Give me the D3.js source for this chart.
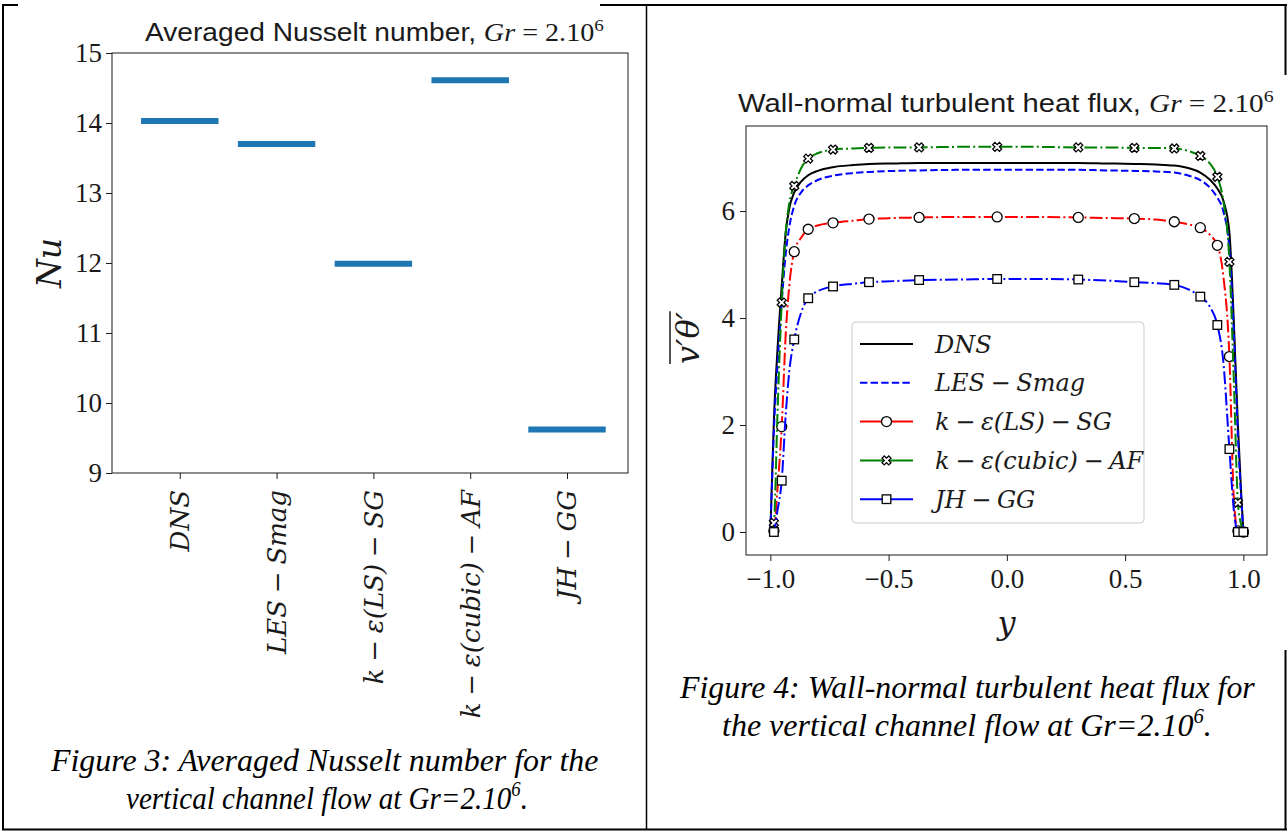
<!DOCTYPE html>
<html><head><meta charset="utf-8">
<script src="https://cdn.jsdelivr.net/npm/d3@7"></script>
<style>
body{margin:0;background:#fff;}
svg{display:block;}
</style></head><body>
<svg id="c" width="1288" height="832"></svg>
<script>
// ---------- Data: Figure 3 (averaged Nusselt number) ----------
const nuCategories = ["DNS", "LES − Smag", "k − ε(LS) − SG", "k − ε(cubic) − AF", "JH − GG"];
const nuValues = [14.03, 13.70, 11.99, 14.61, 9.62];
const nuTicks = [9, 10, 11, 12, 13, 14, 15];

// ---------- Data: Figure 4 (wall-normal turbulent heat flux) ----------
const yPos = [-1.0, -0.993, -0.985, -0.97, -0.952, -0.935, -0.92, -0.899, -0.87, -0.84,
  -0.8, -0.735, -0.65, -0.583, -0.48, -0.371, -0.2, -0.041, 0.13, 0.302,
  0.42, 0.539, 0.63, 0.708, 0.77, 0.818, 0.86, 0.89, 0.915, 0.941,
  0.96, 0.977, 0.99, 1.0];
const fluxDNS = [0, 1.0, 2.1, 3.4, 4.6, 5.6, 6.05, 6.35, 6.55, 6.67,
  6.75, 6.82, 6.86, 6.88, 6.89, 6.9, 6.9, 6.9, 6.9, 6.9,
  6.89, 6.88, 6.87, 6.85, 6.8, 6.72, 6.58, 6.42, 6.2, 5.6,
  3.9, 2.0, 0.8, 0];
const fluxLES = [0, 0.9, 1.9, 3.1, 4.3, 5.2, 5.7, 6.1, 6.35, 6.48,
  6.58, 6.66, 6.71, 6.73, 6.75, 6.76, 6.77, 6.77, 6.77, 6.77,
  6.76, 6.75, 6.74, 6.72, 6.66, 6.58, 6.43, 6.25, 6.0, 5.3,
  3.7, 1.8, 0.7, 0];
const fluxLS = [0, 0, 0.02, 0.8, 1.97, 3.7, 4.6, 5.24, 5.5, 5.66,
  5.73, 5.78, 5.82, 5.85, 5.87, 5.88, 5.89, 5.89, 5.89, 5.88,
  5.87, 5.86, 5.84, 5.80, 5.75, 5.69, 5.55, 5.36, 4.8, 3.28,
  0.6, 0.02, 0, 0];
const fluxCubic = [0, 0.08, 0.17, 2.2, 4.29, 5.6, 6.15, 6.47, 6.8, 6.98,
  7.08, 7.15, 7.17, 7.18, 7.19, 7.19, 7.2, 7.2, 7.2, 7.19,
  7.19, 7.18, 7.18, 7.17, 7.12, 7.03, 6.88, 6.64, 6.2, 5.05,
  2.8, 0.55, 0.15, 0];
const fluxJH = [0, 0, 0, 0.4, 0.96, 2.2, 3.0, 3.6, 4.1, 4.37,
  4.5, 4.59, 4.64, 4.67, 4.69, 4.71, 4.72, 4.73, 4.73, 4.72,
  4.70, 4.67, 4.65, 4.62, 4.53, 4.40, 4.2, 3.87, 3.2, 1.55,
  0.4, 0, 0, 0];
const markerIdx = [2, 4, 7, 9, 11, 13, 15, 17, 19, 21, 23, 25, 27, 29, 31, 33];
const fluxNames = ["DNS", "LES − Smag", "k − ε(LS) − SG", "k − ε(cubic) − AF", "JH − GG"];
const fluxXTicks = [-1.0, -0.5, 0.0, 0.5, 1.0];
const fluxYTicks = [0, 2, 4, 6];

// ---------- Drawing ----------
const svg = d3.select("#c");
const SERIF = "'Liberation Serif','DejaVu Serif',serif";
const MATH = "'DejaVu Serif','Liberation Serif',serif";
const SANS = "'Liberation Sans','DejaVu Sans',sans-serif";
const CAP = "'Liberation Serif',serif";
const INK = "#1a1a1a";

function fitText(sel, x0, x1) {
  const bb = sel.node().getBBox();
  const s = (x1 - x0) / bb.width;
  sel.attr("transform", `translate(${x0},0) scale(${s},1) translate(${-bb.x},0)`);
}

// page borders
const B = svg.append("g").attr("stroke", "#000").attr("fill", "none");
B.append("line").attr("x1", 3).attr("y1", 5).attr("x2", 3).attr("y2", 830).attr("stroke-width", 2);
B.append("line").attr("x1", 2).attr("y1", 5).attr("x2", 18).attr("y2", 5).attr("stroke-width", 2);
B.append("line").attr("x1", 600).attr("y1", 5).attr("x2", 1287).attr("y2", 5).attr("stroke-width", 2);
B.append("line").attr("x1", 646.5).attr("y1", 5).attr("x2", 646.5).attr("y2", 830).attr("stroke-width", 1.5);
B.append("line").attr("x1", 2).attr("y1", 829.5).attr("x2", 1287).attr("y2", 829.5).attr("stroke-width", 2);
B.append("line").attr("x1", 1285.5).attr("y1", 5).attr("x2", 1285.5).attr("y2", 75).attr("stroke-width", 2);
B.append("line").attr("x1", 1285.5).attr("y1", 650).attr("x2", 1285.5).attr("y2", 830).attr("stroke-width", 2);

function title(g, y, lead, x0, x1) {
  const t = g.append("text").attr("x", 0).attr("y", y).attr("font-size", 25).attr("fill", INK);
  t.append("tspan").attr("font-family", SANS).text(lead);
  t.append("tspan").attr("font-family", SERIF).attr("font-style", "italic").text("Gr");
  t.append("tspan").attr("font-family", SERIF).text(" = 2.10");
  t.append("tspan").attr("font-family", SERIF).attr("font-size", 17).attr("dy", -10).text("6");
  fitText(t, x0, x1);
}

// ===== Left chart =====
{
  const L = { l: 112, r: 628, t: 53, b: 473 };
  const x = d3.scaleLinear().domain([-0.7, 4.63]).range([L.l, L.r]);
  const y = d3.scaleLinear().domain([9, 15]).range([L.b, L.t]);
  const g = svg.append("g");

  g.selectAll("line.bar").data(nuValues).join("line")
    .attr("x1", (d, i) => x(i - 0.4)).attr("x2", (d, i) => x(i + 0.4))
    .attr("y1", d => y(d)).attr("y2", d => y(d))
    .attr("stroke", "#1f77b4").attr("stroke-width", 6);

  const ya = g.append("g").attr("transform", `translate(${L.l},0)`)
    .call(d3.axisLeft(y).tickValues(nuTicks).tickSize(6).tickPadding(4).tickFormat(d3.format("d")));
  ya.select(".domain").remove();
  ya.selectAll("line").attr("stroke", INK);
  ya.selectAll("text").attr("font-family", SERIF).attr("font-size", 27).attr("fill", INK);

  const xa = g.append("g").attr("transform", `translate(0,${L.b})`)
    .call(d3.axisBottom(x).tickValues(d3.range(nuCategories.length)).tickSize(6).tickFormat(""));
  xa.select(".domain").remove();
  xa.selectAll("line").attr("stroke", INK);
  g.selectAll("text.xl").data(nuCategories).join("text")
    .attr("transform", (d, i) => `translate(${x(i)},${L.b + 17}) rotate(-90)`)
    .attr("text-anchor", "end").attr("dy", "0.36em").attr("word-spacing", -1.5)
    .attr("font-family", MATH).attr("font-style", "italic").attr("font-size", 26).attr("fill", INK)
    .text(d => d);

  g.append("rect").attr("x", L.l).attr("y", L.t).attr("width", L.r - L.l).attr("height", L.b - L.t)
    .attr("fill", "none").attr("stroke", INK).attr("stroke-width", 1);

  title(g, 41, "Averaged Nusselt number, ", 145, 604);

  g.append("text").attr("transform", `translate(49,263) rotate(-90)`).attr("text-anchor", "middle")
    .attr("dy", "0.36em").attr("font-family", MATH).attr("font-style", "italic").attr("font-size", 33)
    .attr("fill", INK).text("Nu");

  // caption
  const c1 = svg.append("text").attr("y", 771).attr("font-family", CAP).attr("font-style", "italic")
    .attr("font-size", 31).text("Figure 3: Averaged Nusselt number for the");
  fitText(c1, 50, 599);
  const c2 = svg.append("text").attr("y", 809).attr("font-family", CAP).attr("font-style", "italic")
    .attr("font-size", 31);
  c2.append("tspan").text("vertical channel flow at Gr=2.10");
  c2.append("tspan").attr("font-size", 20).attr("dy", -13).text("6");
  c2.append("tspan").attr("dy", 13).text(".");
  fitText(c2, 126, 528);
}

// ===== Right chart =====
{
  const R = { l: 746, r: 1267, t: 126, b: 555 };
  const x = d3.scaleLinear().domain([-1.103, 1.1]).range([R.l, R.r]);
  const y = d3.scaleLinear().domain([-0.43, 7.59]).range([R.b, R.t]);
  const g = svg.append("g");

  const series = [
    { name: fluxNames[0], v: fluxDNS, color: "#000000", dash: null, marker: null },
    { name: fluxNames[1], v: fluxLES, color: "#0000ff", dash: "7.4,3.2", marker: null },
    { name: fluxNames[2], v: fluxLS, color: "#ff0000", dash: "12.8,3.2,2,3.2", marker: "circle" },
    { name: fluxNames[3], v: fluxCubic, color: "#008000", dash: "12.8,3.2,2,3.2", marker: "x" },
    { name: fluxNames[4], v: fluxJH, color: "#0000ff", dash: "12.8,3.2,2,3.2", marker: "square" }
  ];
  const line = d3.line().x((d, i) => x(yPos[i])).y(d => y(d)).curve(d3.curveMonotoneX);
  const symX = d3.symbol(d3.symbolCross, 50);
  function drawMarker(sel, type) {
    if (type === "circle") sel.append("circle").attr("r", 5).attr("fill", "#fff").attr("stroke", "#000").attr("stroke-width", 1.3);
    else if (type === "square") sel.append("rect").attr("x", -4.3).attr("y", -4.3).attr("width", 8.6).attr("height", 8.6).attr("fill", "#fff").attr("stroke", "#000").attr("stroke-width", 1.3);
    else if (type === "x") sel.append("path").attr("d", symX()).attr("transform", "rotate(45)").attr("fill", "#fff").attr("stroke", "#000").attr("stroke-width", 1.3);
  }

  svg.append("clipPath").attr("id", "rclip").append("rect")
    .attr("x", R.l).attr("y", R.t).attr("width", R.r - R.l).attr("height", R.b - R.t);
  const pg = g.append("g").attr("clip-path", "url(#rclip)");
  series.forEach(s => {
    pg.append("path").attr("d", line(s.v)).attr("fill", "none").attr("stroke", s.color)
      .attr("stroke-width", 2).attr("stroke-dasharray", s.dash);
    if (s.marker) {
      markerIdx.forEach(i => {
        const m = pg.append("g").attr("transform", `translate(${x(yPos[i])},${y(s.v[i])})`);
        drawMarker(m, s.marker);
      });
    }
  });

  const xa = g.append("g").attr("transform", `translate(0,${R.b})`)
    .call(d3.axisBottom(x).tickValues(fluxXTicks).tickSize(6).tickPadding(8).tickFormat(d => d3.format(".1f")(d).replace("-", "−")));
  xa.select(".domain").remove();
  xa.selectAll("line").attr("stroke", INK);
  xa.selectAll("text").attr("font-family", SERIF).attr("font-size", 27).attr("fill", INK);

  const ya = g.append("g").attr("transform", `translate(${R.l},0)`)
    .call(d3.axisLeft(y).tickValues(fluxYTicks).tickSize(6).tickPadding(5).tickFormat(d3.format("d")));
  ya.select(".domain").remove();
  ya.selectAll("line").attr("stroke", INK);
  ya.selectAll("text").attr("font-family", SERIF).attr("font-size", 27).attr("fill", INK);

  g.append("rect").attr("x", R.l).attr("y", R.t).attr("width", R.r - R.l).attr("height", R.b - R.t)
    .attr("fill", "none").attr("stroke", INK).attr("stroke-width", 1);

  // legend
  const lg = g.append("g");
  lg.append("rect").attr("x", 852).attr("y", 322).attr("width", 292).attr("height", 201).attr("rx", 4)
    .attr("fill", "#fff").attr("fill-opacity", 0.8).attr("stroke", "#cccccc").attr("stroke-width", 1);
  series.forEach((s, i) => {
    const yy = 344 + i * 38.8;
    lg.append("line").attr("x1", 860).attr("x2", 913).attr("y1", yy).attr("y2", yy)
      .attr("stroke", s.color).attr("stroke-width", 2).attr("stroke-dasharray", s.dash ? (s.marker ? null : s.dash) : null);
    if (s.marker) drawMarker(lg.append("g").attr("transform", `translate(886.5,${yy})`), s.marker);
    lg.append("text").attr("x", 935).attr("y", yy).attr("dy", "0.36em").attr("word-spacing", -2)
      .attr("font-family", MATH).attr("font-style", "italic").attr("font-size", 24).attr("fill", INK)
      .text(s.name);
  });

  title(g, 112, "Wall-normal turbulent heat flux, ", 738, 1274);

  g.append("text").attr("x", (R.l + R.r) / 2).attr("y", 634).attr("text-anchor", "middle")
    .attr("font-family", MATH).attr("font-style", "italic").attr("font-size", 32).attr("fill", INK).text("y");

  const yl = g.append("g").attr("transform", "translate(699,338) rotate(-90)");
  const ylt = yl.append("text").attr("text-anchor", "middle").attr("font-family", MATH)
    .attr("font-style", "italic").attr("font-size", 32).attr("fill", INK).text("v′θ′");
  const bb = ylt.node().getBBox();
  yl.append("line").attr("x1", bb.x).attr("x2", bb.x + bb.width).attr("y1", bb.y + 1).attr("y2", bb.y + 1)
    .attr("stroke", INK).attr("stroke-width", 1.5);

  // caption
  const c1 = svg.append("text").attr("y", 698).attr("font-family", CAP).attr("font-style", "italic")
    .attr("font-size", 31).text("Figure 4: Wall-normal turbulent heat flux for");
  fitText(c1, 679, 1256);
  const c2 = svg.append("text").attr("y", 736).attr("font-family", CAP).attr("font-style", "italic")
    .attr("font-size", 31);
  c2.append("tspan").text("the vertical channel flow at Gr=2.10");
  c2.append("tspan").attr("font-size", 20).attr("dy", -13).text("6");
  c2.append("tspan").attr("dy", 13).text(".");
  fitText(c2, 722, 1212);
}
</script>
</body></html>
